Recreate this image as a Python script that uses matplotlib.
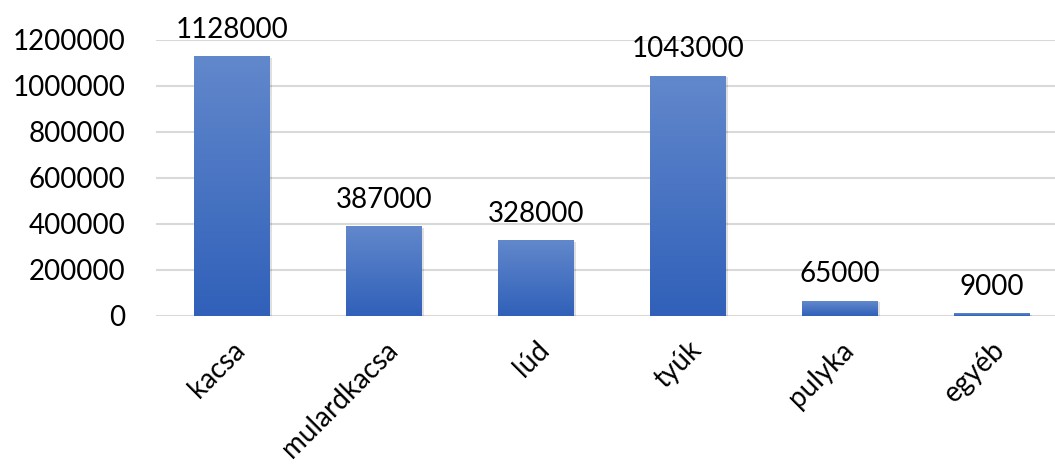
import matplotlib.pyplot as plt
import numpy as np
from matplotlib.colors import LinearSegmentedColormap
import matplotlib.transforms as mtransforms

# data
categories = ['kacsa', 'mulardkacsa', 'lúd', 'tyúk', 'pulyka', 'egyéb']
values = [1128000, 387000, 328000, 1043000, 65000, 9000]
y_ticks = [0, 200000, 400000, 600000, 800000, 1000000, 1200000]

plt.rcParams['font.family'] = ['Lato', 'DejaVu Sans']
FS = 20

fig = plt.figure(figsize=(10.55, 4.7), dpi=100)
# plot area: left edge 156px, categories 152px wide (right edge runs past the crop)
ax = fig.add_axes([156 / 1055, 1 - 316 / 470, 912 / 1055, 276 / 470])

x = np.arange(len(categories))
bars = ax.bar(x, values, width=0.5, color='none', zorder=3)

# vertical gradient for each bar, light at top, darker at bottom
cmap = LinearSegmentedColormap.from_list('bar', ['#3060b9', '#6288cc'])
grad = np.linspace(0, 1, 256).reshape(-1, 1)
for b in bars:
    x0, w, h = b.get_x(), b.get_width(), b.get_height()
    # soft shadow
    ax.add_patch(plt.Rectangle((x0 + 0.012, -6000), w, h, color='#000000', alpha=0.12,
                               zorder=2, lw=0))
    ax.imshow(grad, cmap=cmap, origin='lower', aspect='auto',
              extent=(x0, x0 + w, 0, h), zorder=3)
    ax.annotate(f'{int(h)}', (x0 + w / 2, h), xytext=(0, 10), textcoords='offset points',
                ha='center', va='bottom', fontsize=FS, color='#000000', zorder=4)

ax.set_xlim(-0.5, len(categories) - 0.5)
ax.set_ylim(0, 1200000)
ax.set_yticks(y_ticks)
ax.set_yticklabels([str(t) for t in y_ticks], fontsize=FS)
ax.set_xticks(x)
ax.set_xticklabels(categories, fontsize=FS, rotation=45, ha='right', va='top',
                   rotation_mode='anchor')
# nudge rotated labels a little to the right
shift = mtransforms.ScaledTranslation(3 / 100, 0, fig.dpi_scale_trans)
for lab in ax.get_xticklabels():
    lab.set_transform(lab.get_transform() + shift)

ax.grid(axis='y', color='#d9d9d9', linewidth=1.5, zorder=0)
ax.set_axisbelow(True)
for s in ax.spines.values():
    s.set_visible(False)
ax.tick_params(axis='y', length=0, pad=22)
ax.tick_params(axis='x', length=0, pad=15)

fig.savefig('out.png', dpi=100)
